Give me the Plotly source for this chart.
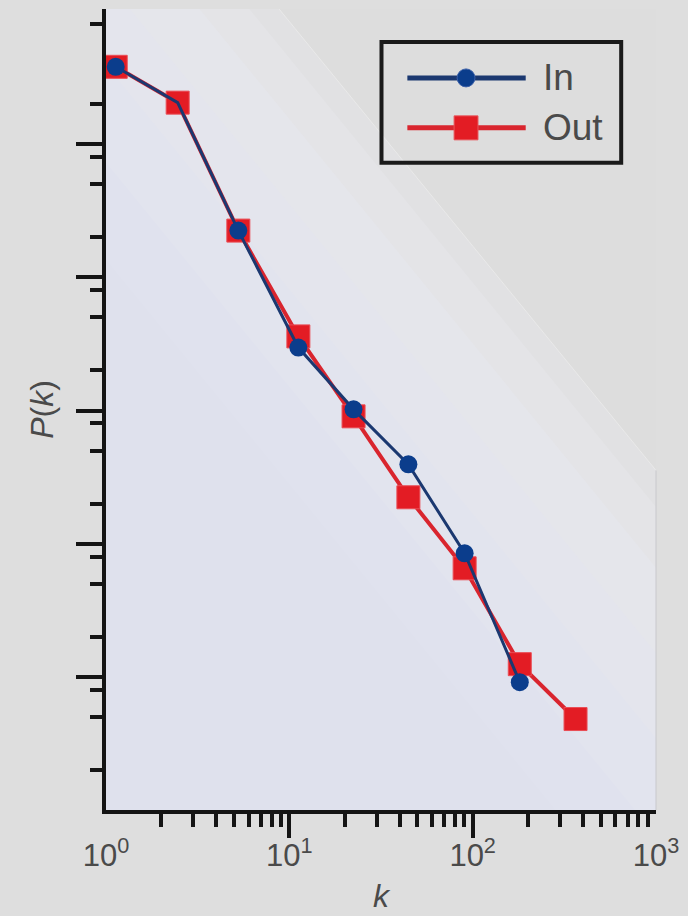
import plotly.graph_objects as go

# ---------------- data ----------------
k_in = [1.13, 2.46, 5.27, 11.2, 22.4, 44.6, 90.4, 180.7]
p_in = [0.381, 0.205, 0.02244, 2.97e-3, 1.02e-3, 3.94e-4, 8.47e-5, 9.12e-6]
in_marker_visible = [1, 0, 1, 1, 1, 1, 1, 1]

k_out = [1.13, 2.46, 5.27, 11.2, 22.4, 44.6, 90.4, 180.7, 364]
p_out = [0.381, 0.205, 0.02244, 3.60e-3, 9.04e-4, 2.23e-4, 6.53e-5, 1.245e-5, 4.82e-6]

series_names = ["In", "Out"]

x_label_vals = [1, 10, 100, 1000]
x_label_text = ["10<sup>0</sup>", "10<sup>1</sup>", "10<sup>2</sup>", "10<sup>3</sup>"]
x_major_ticks = [10, 100]
x_minor_mult = [2, 3, 4, 5, 6, 7, 8, 9]
x_decades = [1, 10, 100]

y_major_ticks = [1e-1, 1e-2, 1e-3, 1e-4, 1e-5]
y_minor_ticks = [8e-1, 2e-1,
                 8e-2, 5e-2, 2e-2,
                 8e-3, 5e-3, 2e-3,
                 8e-4, 5e-4, 2e-4,
                 8e-5, 5e-5, 2e-5,
                 8e-6, 5e-6, 2e-6]

x_title = "<i>k</i>"
y_title = "<i>P</i>(<i>k</i>)"

# ---------------- style / layout ----------------
W, H = 688, 916
L, R, T, B = 106, 29, 9, 105
PW, PH = W - L - R, H - T - B

BLUE_M = "#0b3d8c"
BLUE_L = "#1b3870"
RED = "#e31c24"
RED_L = "#d9252e"
TXT = "#4a4a4a"
FONT = "Liberation Sans, Arial, sans-serif"


def P(X, Y):
    """pixel -> paper coords (paper = plot area)"""
    return (X - L) / PW, (H - B - Y) / PH


def clip_poly(poly):
    """clip polygon (paper coords) to unit square"""
    def clip(pts, inside, inter):
        out = []
        n = len(pts)
        for i in range(n):
            a, b = pts[i], pts[(i + 1) % n]
            ia, ib = inside(a), inside(b)
            if ia:
                out.append(a)
            if ia != ib:
                out.append(inter(a, b))
        return out

    def ix(a, b, v):
        t = (v - a[0]) / (b[0] - a[0])
        return (v, a[1] + t * (b[1] - a[1]))

    def iy(a, b, v):
        t = (v - a[1]) / (b[1] - a[1])
        return (a[0] + t * (b[0] - a[0]), v)

    pts = poly
    pts = clip(pts, lambda p: p[0] >= 0, lambda a, b: ix(a, b, 0))
    pts = clip(pts, lambda p: p[0] <= 1, lambda a, b: ix(a, b, 1))
    pts = clip(pts, lambda p: p[1] >= 0, lambda a, b: iy(a, b, 0))
    pts = clip(pts, lambda p: p[1] <= 1, lambda a, b: iy(a, b, 1))
    return pts


shapes = []
# diagonal background bands (lavender -> gray towards upper right)
band_offsets = [380, 300, 220, 150, 80, 30, 0]
band_colors = ["#e0e2ee", "#e2e4ee", "#e4e5ed", "#e5e6eb", "#e4e4e7", "#e1e1e3", "#dddddd"]
SLOPE = 462 / 379
for o, c in zip(band_offsets, band_colors):
    poly = [P(280 - o, T), P(W - R, T), P(W - R, 471 + SLOPE * o)]
    pts = clip_poly(poly)
    if len(pts) >= 3:
        path = "M " + " L ".join(f"{x:.5f},{y:.5f}" for x, y in pts) + " Z"
        shapes.append(dict(type="path", path=path, xref="paper", yref="paper",
                           fillcolor=c, line=dict(width=0), layer="below"))
# faint light line along the band edge
x0, y0 = P(280, T)
x1, y1 = P(W - R, 471)
shapes.append(dict(type="line", x0=x0, y0=y0, x1=x1, y1=y1, xref="paper", yref="paper",
                   line=dict(color="#e9e9e9", width=1), layer="below"))
# thin right border of plot area
_, yt = P(W - R, 471)
shapes.append(dict(type="line", x0=1, y0=0, x1=1, y1=yt, xref="paper", yref="paper",
                   line=dict(color="#c8c8cc", width=1), layer="below"))

# ---- custom legend (box, sample lines, markers) ----
bx0, by0 = P(383, 42)
bx1, by1 = P(624, 163)
shapes.append(dict(type="rect", x0=bx0, y0=by1, x1=bx1, y1=by0, xref="paper", yref="paper",
                   line=dict(color="#1a1a1a", width=4), fillcolor="rgba(0,0,0,0)", layer="above"))
rows = [78, 128]
lx0, lx1, lmx, ltx = 409, 528, 468, 543
for i, (name, yrow) in enumerate(zip(series_names, rows)):
    a0, ay = P(lx0, yrow)
    a1, _ = P(lx1, yrow)
    col_l = BLUE_L if i == 0 else RED_L
    shapes.append(dict(type="line", x0=a0, y0=ay, x1=a1, y1=ay, xref="paper", yref="paper",
                       line=dict(color=col_l, width=5), layer="above"))
    if i == 0:
        c0x, c0y = P(lmx - 9, yrow + 9)
        c1x, c1y = P(lmx + 9, yrow - 9)
        shapes.append(dict(type="circle", x0=c0x, y0=c0y, x1=c1x, y1=c1y, xref="paper",
                           yref="paper", fillcolor=BLUE_M, line=dict(color="#3a5fa8", width=1),
                           layer="above"))
    else:
        c0x, c0y = P(lmx - 12, yrow + 12)
        c1x, c1y = P(lmx + 12, yrow - 12)
        shapes.append(dict(type="rect", x0=c0x, y0=c0y, x1=c1x, y1=c1y, xref="paper",
                           yref="paper", fillcolor=RED, line=dict(color="#e8545a", width=1),
                           layer="above"))

annotations = []
for name, yrow in zip(series_names, rows):
    tx, ty = P(ltx, yrow)
    annotations.append(dict(text=name, x=tx, y=ty, xref="paper", yref="paper",
                            xanchor="left", yanchor="middle", showarrow=False,
                            font=dict(family=FONT, size=37, color=TXT)))

x_minor = [d * m for d in x_decades for m in x_minor_mult]

fig = go.Figure()
fig.add_trace(go.Scatter(
    x=k_out, y=p_out, name="Out", mode="lines+markers",
    line=dict(color=RED_L, width=4),
    marker=dict(symbol="square", size=23, color=RED, line=dict(color="#ea4d55", width=1)),
    showlegend=False, xaxis="x", yaxis="y"))
fig.add_trace(go.Scatter(
    x=k_in, y=p_in, name="In", mode="lines+markers",
    line=dict(color=BLUE_L, width=3),
    marker=dict(symbol="circle", size=18, color=BLUE_M, opacity=in_marker_visible,
                line=dict(width=0)),
    showlegend=False, xaxis="x", yaxis="y"))
# invisible trace so the label axis (x2) is created
fig.add_trace(go.Scatter(x=k_out, y=p_out, mode="markers", marker=dict(opacity=0),
                         hoverinfo="skip", showlegend=False, xaxis="x2", yaxis="y"))

fig.update_layout(
    width=W, height=H,
    margin=dict(l=L, r=R, t=T, b=B, pad=0),
    paper_bgcolor="#dedede",
    plot_bgcolor="#dfe1ed",
    font=dict(family=FONT, color=TXT),
    showlegend=False,
    xaxis=dict(
        type="log", range=[0, 3], showgrid=False, zeroline=False,
        showline=True, linecolor="#141414", linewidth=4, mirror=False,
        ticks="outside", ticklen=24, tickwidth=4, tickcolor="#141414",
        tickmode="array", tickvals=x_major_ticks, showticklabels=False,
        minor=dict(ticks="outside", tickmode="array", tickvals=x_minor, ticklen=13,
                   tickwidth=4, tickcolor="#141414", showgrid=False),
    ),
    xaxis2=dict(
        type="log", range=[0, 3], overlaying="x", anchor="y", side="bottom",
        showgrid=False, zeroline=False, showline=False, ticks="",
        tickmode="array", tickvals=x_label_vals, ticktext=x_label_text,
        tickfont=dict(family=FONT, size=31, color=TXT), ticklabelstandoff=24,
        title=dict(text=x_title, font=dict(family=FONT, size=32, color=TXT), standoff=12),
    ),
    yaxis=dict(
        type="log", range=[-6, 0.015], showgrid=False, zeroline=False,
        showline=True, linecolor="#141414", linewidth=4, mirror=False,
        ticks="outside", ticklen=26, tickwidth=4, tickcolor="#141414",
        tickmode="array", tickvals=y_major_ticks, showticklabels=False,
        minor=dict(ticks="outside", tickmode="array", tickvals=y_minor_ticks, ticklen=12,
                   tickwidth=4, tickcolor="#141414", showgrid=False),
        title=dict(text=y_title, font=dict(family=FONT, size=32, color=TXT), standoff=14),
    ),
    shapes=shapes,
    annotations=annotations,
)

fig.write_html("out.html")
